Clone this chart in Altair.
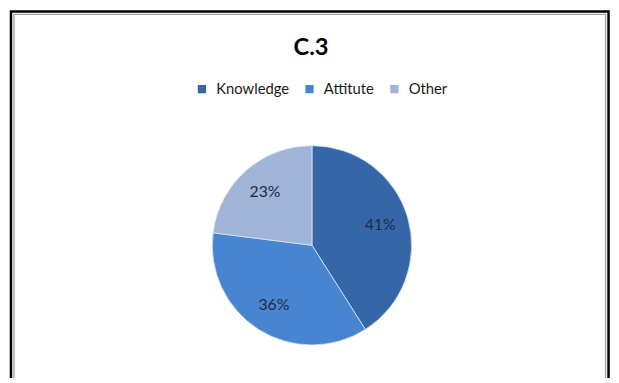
import altair as alt
import pandas as pd

categories = ["Knowledge", "Attitute", "Other"]
values = [41, 36, 23]
labels = ["41%", "36%", "23%"]
colors = ["#3466A8", "#4885D0", "#A0B4D8"]
title_text = "C.3"

df = pd.DataFrame({
    "category": categories,
    "value": values,
    "label": labels,
    "order": list(range(len(categories))),
})

FONT = "Lato"

base = alt.Chart(df).encode(
    theta=alt.Theta("value:Q", stack=True),
    order=alt.Order("order:Q"),
)

pie = base.mark_arc(outerRadius=101, stroke="#dfe6f2", strokeWidth=0.8).encode(
    x=alt.value(308),
    y=alt.value(188),
    color=alt.Color(
        "category:N",
        sort=categories,
        scale=alt.Scale(domain=categories, range=colors),
        legend=alt.Legend(
            title=None,
            orient="none",
            direction="horizontal",
            legendX=189,
            legendY=22,
            symbolType="square",
            symbolSize=70,
            symbolStrokeWidth=0,
            labelFont=FONT,
            labelFontSize=15,
            labelColor="#1a1a1a",
            labelOffset=7,
            columnPadding=13,
        ),
    ),
)

text = base.mark_text(radius=72, font=FONT, fontSize=16, color="#1f2b45").encode(
    x=alt.value(308),
    y=alt.value(188),
    text="label:N",
)

title_df = pd.DataFrame({"t": [title_text]})
title = alt.Chart(title_df).mark_text(
    font=FONT, fontSize=24, fontWeight="bold", color="#000000",
    baseline="middle", align="center",
).encode(x=alt.value(307), y=alt.value(-12), text="t:N")

frame_df = pd.DataFrame({"k": [0]})
frame_outer = alt.Chart(frame_df).mark_rect(
    fill="transparent", stroke="#000000", strokeWidth=2.5
).encode(
    x=alt.value(3), x2=alt.value(608.5), y=alt.value(-49), y2=alt.value(400)
)
frame_inner = alt.Chart(frame_df).mark_rect(
    fill="transparent", stroke="#a8a8a8", strokeWidth=1.5
).encode(
    x=alt.value(6), x2=alt.value(605.5), y=alt.value(-46), y2=alt.value(400)
)

chart = alt.layer(frame_outer, frame_inner, title, pie, text).properties(
    width=603,
    height=320,
    padding={"left": 0, "top": 50, "right": 8, "bottom": 0},
    autosize=alt.AutoSizeParams(type="none"),
    background="white",
).configure_view(stroke=None, strokeWidth=0)

chart.save("out.html", embed_options={"renderer": "svg", "actions": False})
